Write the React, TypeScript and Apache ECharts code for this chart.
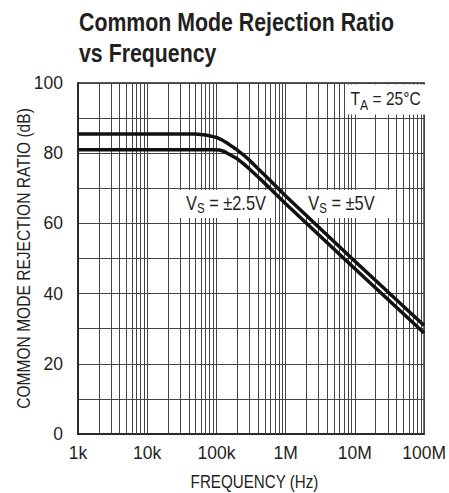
import React, { useEffect, useRef } from "react";
import * as echarts from "echarts";

const FONT = "'Liberation Sans', Arial, Helvetica, sans-serif";
const INK = "#231f20";
const GRID = "#444444";
const NARROW = 0.82;

// Tick values / labels
const xTickValues = [1e3, 1e4, 1e5, 1e6, 1e7, 1e8];
const xTickLabels = ["1k", "10k", "100k", "1M", "10M", "100M"];
const yTickLabels = [0, 20, 40, 60, 80, 100];
const minorMultipliers = [2, 3, 4, 5, 6, 7, 8, 9];

// Curve: VS = ±5V
const freq5V = [1e3, 5e4, 7e4, 1e5, 1.2e5, 1.5e5, 2e5, 2.5e5, 3e5, 4e5, 5e5, 7e5, 1e6, 1e7, 1e8];
const cmrr5V = [85.5, 85.5, 85.2, 84.5, 83.8, 82.6, 80.9, 79.4, 78.0, 75.6, 73.7, 70.9, 67.8, 49.2, 30.9];

// Curve: VS = ±2.5V
const freq25V = [1e3, 9e4, 1.1e5, 1.3e5, 1.5e5, 2e5, 2.5e5, 3e5, 4e5, 5e5, 7e5, 1e6, 1e7, 1e8];
const cmrr25V = [81, 81, 80.9, 80.5, 79.8, 78.4, 76.9, 75.5, 73.2, 71.4, 68.6, 65.6, 47.1, 28.8];

export default function App() {
  const ref = useRef<HTMLDivElement>(null);

  useEffect(() => {
    if (!ref.current) return;
    const chart = echarts.init(ref.current, null, { renderer: "svg" });

    const minorFreqs: number[] = [];
    for (let i = 0; i < xTickValues.length - 1; i++) {
      for (const m of minorMultipliers) minorFreqs.push(xTickValues[i] * m);
    }

    const mk = (xs: number[], ys: number[]) => xs.map((x, i) => [x, ys[i]]);

    const labelText = (x: number, y: number, main: string, sub: string, rest: string, fs: number, sfs: number, slh: number) => ({
      type: "text",
      z: 60,
      x,
      y,
      scaleX: NARROW,
      style: {
        text: `{m|${main}}{s|${sub}}{m|${rest}}`,
        verticalAlign: "top",
        rich: {
          m: { fontFamily: FONT, fontSize: fs, lineHeight: fs, verticalAlign: "top", fill: INK },
          s: { fontFamily: FONT, fontSize: sfs, lineHeight: slh, verticalAlign: "bottom", fill: INK },
        },
      },
    });

    chart.setOption({
      animation: false,
      grid: {
        left: 78,
        right: 18,
        top: 83,
        bottom: 59,
        show: true,
        borderColor: INK,
        borderWidth: 1.5,
        backgroundColor: "transparent",
        z: 0,
      },
      xAxis: {
        type: "log",
        logBase: 10,
        min: 1e3,
        max: 1e8,
        z: 0,
        axisLine: { lineStyle: { color: INK, width: 1.5 } },
        axisTick: { show: false },
        axisLabel: {
          fontFamily: FONT,
          fontSize: 17.5,
          color: INK,
          margin: 9.5,
          formatter: (v: number) => {
            const i = xTickValues.findIndex((t) => Math.abs(t - v) / t < 1e-6);
            return i >= 0 ? xTickLabels[i] : "";
          },
        },
        splitLine: { show: true, lineStyle: { color: GRID, width: 1 } },
      },
      yAxis: {
        type: "value",
        min: 0,
        max: 100,
        interval: 10,
        z: 0,
        axisLine: { show: true, lineStyle: { color: INK, width: 1.5 } },
        axisTick: { show: false },
        axisLabel: {
          fontFamily: FONT,
          fontSize: 17.5,
          color: INK,
          margin: 15,
          formatter: (v: number) => (yTickLabels.indexOf(v) >= 0 ? String(v) : ""),
        },
        splitLine: { show: true, lineStyle: { color: GRID, width: 1 } },
      },
      series: [
        {
          name: "minor-grid",
          type: "line",
          data: [],
          z: 1,
          silent: true,
          markLine: {
            silent: true,
            animation: false,
            z: 1,
            symbol: ["none", "none"],
            label: { show: false },
            emphasis: { disabled: true },
            lineStyle: { color: GRID, width: 1, type: "solid" },
            data: minorFreqs.map((f) => ({ xAxis: f })),
          },
        },
        {
          name: "VS = ±5V",
          type: "line",
          data: mk(freq5V, cmrr5V),
          showSymbol: false,
          smooth: false,
          z: 5,
          lineStyle: { color: "#111", width: 3.5, join: "round" },
        },
        {
          name: "VS = ±2.5V",
          type: "line",
          data: mk(freq25V, cmrr25V),
          showSymbol: false,
          smooth: false,
          z: 5,
          lineStyle: { color: "#111", width: 3.5, join: "round" },
        },
      ],
      graphic: [
        {
          type: "text",
          z: 60,
          x: 79,
          y: 6.5,
          scaleX: NARROW,
          style: {
            text: "Common Mode Rejection Ratio\nvs Frequency",
            fontFamily: FONT,
            fontWeight: "bold",
            fontSize: 26,
            lineHeight: 31,
            fill: INK,
            verticalAlign: "top",
          },
        },
        {
          type: "text",
          z: 60,
          x: 254.5,
          y: 481.9,
          scaleX: NARROW,
          style: {
            text: "FREQUENCY (Hz)",
            fontFamily: FONT,
            fontSize: 18.5,
            fill: INK,
            align: "center",
            verticalAlign: "middle",
          },
        },
        {
          type: "text",
          z: 60,
          x: 23.5,
          y: 258.5,
          rotation: Math.PI / 2,
          scaleX: NARROW,
          style: {
            text: "COMMON MODE REJECTION RATIO (dB)",
            fontFamily: FONT,
            fontSize: 19,
            fill: INK,
            align: "center",
            verticalAlign: "middle",
          },
        },
        { type: "rect", z: 3, shape: { x: 347, y: 84.5, width: 82.5, height: 30 }, style: { fill: "#fff" } },
        { type: "rect", z: 3, shape: { x: 170, y: 190, width: 105, height: 28 }, style: { fill: "#fff" } },
        { type: "rect", z: 3, shape: { x: 300, y: 190, width: 90, height: 28 }, style: { fill: "#fff" } },
        labelText(350.5, 88.9, "T", "A", " = 25°C", 19, 15, 24),
        labelText(186, 193.1, "V", "S", " = ±2.5V", 20, 14, 22.3),
        labelText(308.3, 193.1, "V", "S", " = ±5V", 20, 14, 22.3),
      ],
    });

    return () => chart.dispose();
  }, []);

  return <div ref={ref} style={{ width: 449, height: 493, position: "absolute", left: 0, top: 0 }} />;
}
